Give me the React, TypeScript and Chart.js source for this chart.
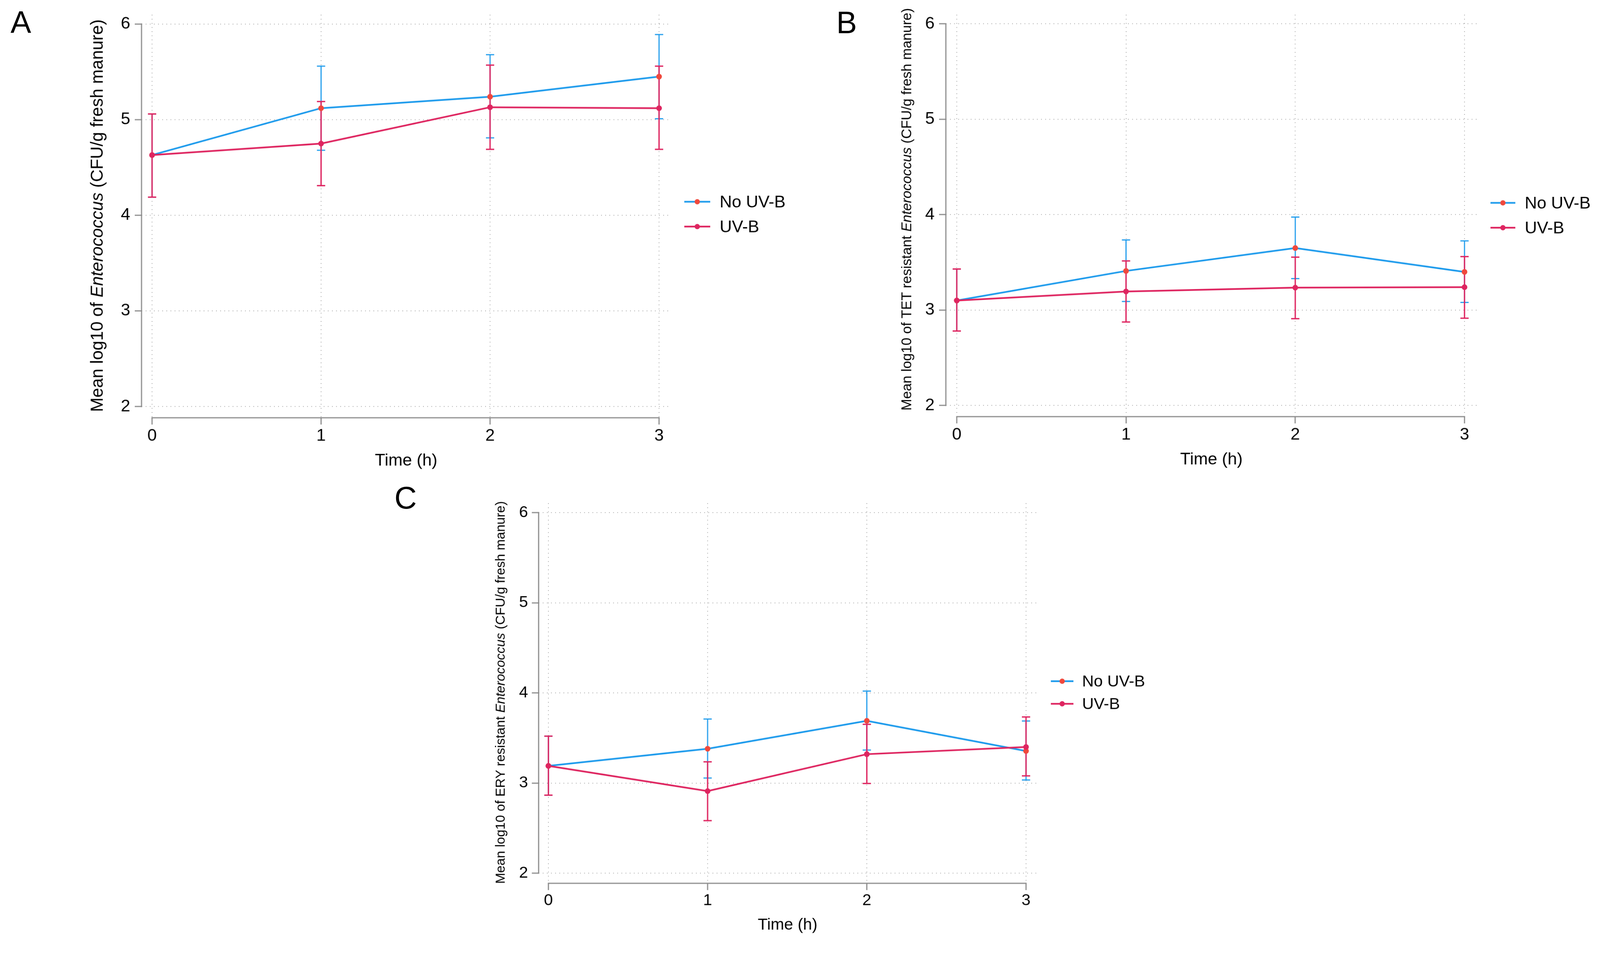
import React, { useEffect, useRef } from "react";
import { Chart, registerables } from "chart.js";

Chart.register(...registerables);

const FONT = "'Liberation Sans', Arial, Helvetica, sans-serif";
const PAGE_W = 4251;
const PAGE_H = 2509;

// ---------- data ----------
const timeValues = [0, 1, 2, 3];
const xTickLabels = ["0", "1", "2", "3"];
const yTickValues = [2, 3, 4, 5, 6];
const yTickLabels = ["2", "3", "4", "5", "6"];
const seriesNames = ["No UV-B", "UV-B"];
const xAxisTitle = "Time (h)";

// Panel A: Enterococcus
const aNoUvbMean = [4.63, 5.12, 5.24, 5.45];
const aNoUvbLow = [4.19, 4.68, 4.81, 5.01];
const aNoUvbHigh = [5.06, 5.56, 5.68, 5.89];
const aUvbMean = [4.63, 4.75, 5.13, 5.12];
const aUvbLow = [4.19, 4.31, 4.69, 4.69];
const aUvbHigh = [5.06, 5.19, 5.57, 5.56];

// Panel B: TET resistant Enterococcus
const bNoUvbMean = [3.1, 3.41, 3.65, 3.4];
const bNoUvbLow = [2.78, 3.09, 3.33, 3.08];
const bNoUvbHigh = [3.43, 3.735, 3.975, 3.725];
const bUvbMean = [3.1, 3.195, 3.235, 3.24];
const bUvbLow = [2.78, 2.875, 2.91, 2.915];
const bUvbHigh = [3.43, 3.515, 3.555, 3.56];

// Panel C: ERY resistant Enterococcus
const cNoUvbMean = [3.19, 3.38, 3.69, 3.355];
const cNoUvbLow = [2.865, 3.055, 3.365, 3.033];
const cNoUvbHigh = [3.52, 3.71, 4.02, 3.688];
const cUvbMean = [3.19, 2.91, 3.32, 3.4];
const cUvbLow = [2.865, 2.583, 2.995, 3.079];
const cUvbHigh = [3.52, 3.235, 3.651, 3.733];

// ---------- styles ----------
const BLUE = "#1e9bec";
const ORANGE = "#f0483c";
const CRIMSON = "#de2560";
const AXIS = "#8a8a8a";
const GRID = "#a3a3a3";

type Panel = {
  key: string;
  letter: string;
  letterLeft: number;
  letterTop: number;
  left: number;
  top: number;
  width: number;
  height: number;
  pad: { left: number; top: number; right: number; bottom: number };
  yWidth: number;
  xHeight: number;
  xMin: number;
  xMax: number;
  yMin: number;
  yMax: number;
  fontSize: number;
  titleFont: number;
  yTitle: [string, string, string];
  yTitleX: number;
  yTitleY: number;
  xTitlePadBottom: number;
  xTickPad: number;
  yTickPad: number;
  tickLen: number;
  legendLine: [number, number];
  legendTextX: number;
  legendY: [number, number];
  noMean: number[];
  noLow: number[];
  noHigh: number[];
  uvMean: number[];
  uvLow: number[];
  uvHigh: number[];
};

const panels: Panel[] = [
  {
    key: "A", letter: "A", letterLeft: 28, letterTop: 18,
    left: 0, top: 0, width: 2160, height: 1265,
    pad: { left: 0, top: 33, right: 378, bottom: 5 },
    yWidth: 376, xHeight: 150,
    xMin: -0.0624, xMax: 3.069, yMin: 1.8826, yMax: 6.0978,
    fontSize: 45, titleFont: 46,
    yTitle: ["Mean log10 of ", "Enterococcus", " (CFU/g fresh manure)"],
    yTitleX: 260, yTitleY: 573,
    xTitlePadBottom: 8, xTickPad: 4, yTickPad: 12, tickLen: 18,
    legendLine: [36, 105], legendTextX: 130, legendY: [536, 602],
    noMean: aNoUvbMean, noLow: aNoUvbLow, noHigh: aNoUvbHigh,
    uvMean: aUvbMean, uvLow: aUvbLow, uvHigh: aUvbHigh,
  },
  {
    key: "B", letter: "B", letterLeft: 2222, letterTop: 19,
    left: 2160, top: 0, width: 2091, height: 1265,
    pad: { left: 0, top: 37, right: 327, bottom: 8 },
    yWidth: 353, xHeight: 150,
    xMin: -0.0645, xMax: 3.0734, yMin: 1.8831, yMax: 6.0957,
    fontSize: 45, titleFont: 37,
    yTitle: ["Mean log10 of TET resistant ", "Enterococcus", " (CFU/g fresh manure)"],
    yTitleX: 251, yTitleY: 556,
    xTitlePadBottom: 8, xTickPad: 4, yTickPad: 12, tickLen: 18,
    legendLine: [36, 102], legendTextX: 127, legendY: [539, 605],
    noMean: bNoUvbMean, noLow: bNoUvbLow, noHigh: bNoUvbHigh,
    uvMean: bUvbMean, uvLow: bUvbLow, uvHigh: bUvbHigh,
  },
  {
    key: "C", letter: "C", letterLeft: 1048, letterTop: 1282,
    left: 1000, top: 1270, width: 2200, height: 1239,
    pad: { left: 0, top: 67, right: 446, bottom: 22 },
    yWidth: 431, xHeight: 140,
    xMin: -0.0615, xMax: 3.0662, yMin: 1.8873, yMax: 6.1044,
    fontSize: 43, titleFont: 35,
    yTitle: ["Mean log10 of ERY resistant ", "Enterococcus", " (CFU/g fresh manure)"],
    yTitleX: 331, yTitleY: 570,
    xTitlePadBottom: 3, xTickPad: 2, yTickPad: 10, tickLen: 18,
    legendLine: [38, 98], legendTextX: 121, legendY: [540, 600],
    noMean: cNoUvbMean, noLow: cNoUvbLow, noHigh: cNoUvbHigh,
    uvMean: cUvbMean, uvLow: cUvbLow, uvHigh: cUvbHigh,
  },
];

function buildChart(canvas: HTMLCanvasElement, p: Panel): Chart {
  const tickFont = { family: FONT, size: p.fontSize };

  const decorPlugin = {
    id: "decor" + p.key,
    beforeDatasetsDraw(chart: any) {
      const { ctx, chartArea } = chart;
      const xs = chart.scales.x;
      const ys = chart.scales.y;
      ctx.save();
      // axis lines (only over the tick range)
      ctx.strokeStyle = AXIS;
      ctx.lineWidth = 3;
      ctx.lineCap = "square";
      ctx.beginPath();
      ctx.moveTo(chartArea.left, ys.getPixelForValue(yTickValues[0]));
      ctx.lineTo(chartArea.left, ys.getPixelForValue(yTickValues[yTickValues.length - 1]));
      ctx.moveTo(xs.getPixelForValue(timeValues[0]), chartArea.bottom);
      ctx.lineTo(xs.getPixelForValue(timeValues[timeValues.length - 1]), chartArea.bottom);
      ctx.stroke();
      // error bars
      const groups = [
        { low: p.noLow, high: p.noHigh, color: BLUE, width: 3 },
        { low: p.uvLow, high: p.uvHigh, color: CRIMSON, width: 3.5 },
      ];
      const cap = 11;
      ctx.lineCap = "butt";
      for (const g of groups) {
        ctx.strokeStyle = g.color;
        ctx.lineWidth = g.width;
        for (let i = 0; i < timeValues.length; i++) {
          const x = xs.getPixelForValue(timeValues[i]);
          const y1 = ys.getPixelForValue(g.low[i]);
          const y2 = ys.getPixelForValue(g.high[i]);
          ctx.beginPath();
          ctx.moveTo(x, y1);
          ctx.lineTo(x, y2);
          ctx.moveTo(x - cap, y1);
          ctx.lineTo(x + cap, y1);
          ctx.moveTo(x - cap, y2);
          ctx.lineTo(x + cap, y2);
          ctx.stroke();
        }
      }
      ctx.restore();
    },
    afterDraw(chart: any) {
      const { ctx, chartArea } = chart;
      ctx.save();
      // y axis title with italic genus name
      const normalFont = `${p.titleFont}px ${FONT}`;
      const italicFont = `italic ${p.titleFont}px ${FONT}`;
      const fonts = [normalFont, italicFont, normalFont];
      const widths = p.yTitle.map((t, i) => {
        ctx.font = fonts[i];
        return ctx.measureText(t).width;
      });
      const total = widths.reduce((a, b) => a + b, 0);
      ctx.translate(p.yTitleX, p.yTitleY);
      ctx.rotate(-Math.PI / 2);
      ctx.fillStyle = "#000";
      ctx.textBaseline = "middle";
      ctx.textAlign = "left";
      let cx = -total / 2;
      p.yTitle.forEach((t, i) => {
        ctx.font = fonts[i];
        ctx.fillText(t, cx, 0);
        cx += widths[i];
      });
      ctx.restore();

      // legend
      ctx.save();
      const items = [
        { name: seriesNames[0], line: BLUE, marker: ORANGE },
        { name: seriesNames[1], line: CRIMSON, marker: CRIMSON },
      ];
      items.forEach((it, i) => {
        const y = p.legendY[i];
        const x1 = chartArea.right + p.legendLine[0];
        const x2 = chartArea.right + p.legendLine[1];
        ctx.strokeStyle = it.line;
        ctx.lineWidth = 4.5;
        ctx.beginPath();
        ctx.moveTo(x1, y);
        ctx.lineTo(x2, y);
        ctx.stroke();
        ctx.fillStyle = it.marker;
        ctx.beginPath();
        ctx.arc((x1 + x2) / 2, y, 7, 0, Math.PI * 2);
        ctx.fill();
        ctx.fillStyle = "#000";
        ctx.font = `${p.fontSize}px ${FONT}`;
        ctx.textBaseline = "middle";
        ctx.textAlign = "left";
        ctx.fillText(it.name, chartArea.right + p.legendTextX, y + 2.5);
      });
      ctx.restore();
    },
  };

  return new Chart(canvas, {
    type: "line",
    data: {
      datasets: [
        {
          label: seriesNames[0],
          data: timeValues.map((t, i) => ({ x: t, y: p.noMean[i] })),
          borderColor: BLUE,
          backgroundColor: ORANGE,
          pointBackgroundColor: ORANGE,
          pointBorderColor: ORANGE,
          pointBorderWidth: 0,
          pointRadius: 7.5,
          borderWidth: 4.5,
          tension: 0,
          fill: false,
          order: 1,
        },
        {
          label: seriesNames[1],
          data: timeValues.map((t, i) => ({ x: t, y: p.uvMean[i] })),
          borderColor: CRIMSON,
          backgroundColor: CRIMSON,
          pointBackgroundColor: CRIMSON,
          pointBorderColor: CRIMSON,
          pointBorderWidth: 0,
          pointRadius: 7.5,
          borderWidth: 4.5,
          tension: 0,
          fill: false,
          order: 0,
        },
      ],
    },
    options: {
      responsive: false,
      animation: false,
      devicePixelRatio: 1,
      events: [],
      layout: { padding: p.pad },
      plugins: {
        legend: { display: false },
        tooltip: { enabled: false },
        title: { display: false },
      },
      scales: {
        x: {
          type: "linear",
          min: p.xMin,
          max: p.xMax,
          afterBuildTicks: (scale: any) => {
            scale.ticks = timeValues.map((v) => ({ value: v }));
          },
          afterFit: (scale: any) => {
            scale.height = p.xHeight;
          },
          ticks: {
            autoSkip: false,
            maxRotation: 0,
            minRotation: 0,
            padding: p.xTickPad,
            color: "#000",
            font: tickFont,
            callback: (_v: any, i: number) => xTickLabels[i],
          },
          grid: {
            color: GRID,
            lineWidth: 2,
            tickColor: AXIS,
            tickWidth: 3,
            tickLength: p.tickLen,
            drawTicks: true,
          },
          border: { display: false, dash: [2, 9] },
          title: {
            display: true,
            text: xAxisTitle,
            color: "#000",
            font: { family: FONT, size: p.fontSize },
            padding: { top: 0, bottom: p.xTitlePadBottom },
          },
        },
        y: {
          type: "linear",
          min: p.yMin,
          max: p.yMax,
          afterBuildTicks: (scale: any) => {
            scale.ticks = yTickValues.map((v) => ({ value: v }));
          },
          afterFit: (scale: any) => {
            scale.width = p.yWidth;
          },
          ticks: {
            autoSkip: false,
            padding: p.yTickPad,
            color: "#000",
            font: tickFont,
            callback: (_v: any, i: number) => yTickLabels[i],
          },
          grid: {
            color: GRID,
            lineWidth: 2,
            tickColor: AXIS,
            tickWidth: 3,
            tickLength: p.tickLen,
            drawTicks: true,
          },
          border: { display: false, dash: [2, 9] },
          title: { display: false },
        },
      },
    },
    plugins: [decorPlugin],
  } as any);
}

function PanelCanvas({ p }: { p: Panel }) {
  const ref = useRef<HTMLCanvasElement | null>(null);
  useEffect(() => {
    if (!ref.current) return;
    const chart = buildChart(ref.current, p);
    return () => chart.destroy();
  }, [p]);
  return (
    <canvas
      ref={ref}
      width={p.width}
      height={p.height}
      style={{
        position: "absolute",
        left: p.left,
        top: p.top,
        width: p.width,
        height: p.height,
      }}
    />
  );
}

export default function App() {
  const vw = typeof window !== "undefined" ? window.innerWidth : PAGE_W;
  const vh = typeof window !== "undefined" ? window.innerHeight : PAGE_H;
  const s = Math.min(vw / PAGE_W, vh / PAGE_H, 1);
  return (
    <div
      style={{
        position: "fixed",
        left: 0,
        top: 0,
        width: PAGE_W * s,
        height: PAGE_H * s,
        overflow: "hidden",
        background: "#fff",
      }}
    >
      <div
        style={{
          position: "absolute",
          left: 0,
          top: 0,
          width: PAGE_W,
          height: PAGE_H,
          background: "#fff",
          transform: `scale(${s})`,
          transformOrigin: "0 0",
        }}
      >
        {panels.map((p) => (
          <PanelCanvas key={p.key} p={p} />
        ))}
        {panels.map((p) => (
          <div
            key={"L" + p.key}
            style={{
              position: "absolute",
              left: p.letterLeft,
              top: p.letterTop,
              fontFamily: FONT,
              fontSize: 82,
              lineHeight: "82px",
              color: "#000",
            }}
          >
            {p.letter}
          </div>
        ))}
      </div>
    </div>
  );
}
